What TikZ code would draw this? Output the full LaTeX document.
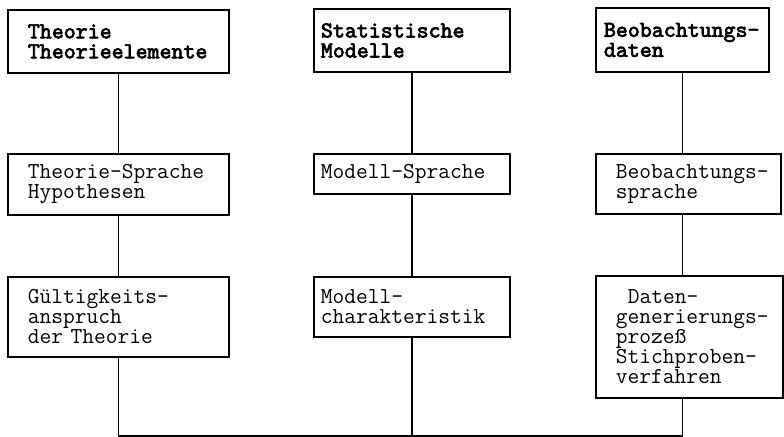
\documentclass[tikz,border=0pt]{standalone}
\hyphenpenalty=10000
\exhyphenpenalty=10000
\font\headfont="[lmmono10-regular.otf]:embolden=3" at 11.4pt

\begin{document}
\begin{tikzpicture}[x=0.5pt, y=-0.5pt,
  font=\fontsize{11.4}{10}\selectfont\ttfamily,
  box/.style={draw, line width=0.9pt, rectangle, align=left,
              anchor=north west, inner ysep=0pt},
  head/.style={box, font=\fontsize{11.4}{10}\selectfont\headfont},
  colL/.style={text width=90.5pt, inner xsep=10pt},
  colM/.style={text width=91pt, inner xsep=3.5pt},
  link/.style={line width=0.9pt}]

  \useasboundingbox (0,0) rectangle (784,437);

  % ── Theorie column ───────────────────────────────────────────────
  \node[head, colL, minimum height=31.5pt] (lt) at (7,9)   {Theorie\\Theorieelemente};
  \node[box,  colL, minimum height=30.5pt] (lm) at (7,153) {Theorie-Sprache\\Hypothesen};
  \node[box,  colL, minimum height=40pt]   (lb) at (7,276) {Gültigkeits-\\anspruch\\der Theorie};

  % ── Modell column ────────────────────────────────────────────────
  \node[head, colM, minimum height=31.5pt] (mt) at (313,8)   {Statistische\\Modelle};
  \node[box,  colM, minimum height=20pt]   (mm) at (313,153) {Modell-Sprache};
  \node[box,  colM, minimum height=30pt]   (mb) at (313,276) {Modell-\\charakteristik};

  % ── Beobachtung column (boxes get wider downwards) ───────────────
  \node[head, text width=78.5pt, inner xsep=4pt, minimum height=32pt] (rt) at (595,7)
    {Beobachtungs-\\daten};
  \node[box, text width=72.5pt, inner xsep=10pt, minimum height=30pt] (rm) at (595,153)
    {Beobachtungs-\\sprache};
  \node[box, text width=73.5pt, inner xsep=10pt, minimum height=61pt] (rb) at (595,275)
    {\hspace*{6pt}Daten-\\generierungs-\\prozeß\\Stichproben-\\verfahren};

  % ── Vertical links ───────────────────────────────────────────────
  \foreach \a/\b in {lt/lm, lm/lb, mt/mm, mm/mb}{
    \draw[link] (\a) -- (\b);
  }
  \draw[link] (rt.south) -- (rt.south |- rm.north);
  \draw[link] (rt.south |- rm.south) -- (rt.south |- rb.north);

  % ── Bottom bus ───────────────────────────────────────────────────
  \coordinate (bus) at (0,436);
  \draw[link] (lb.south) -- (lb.south |- bus) -- (rt.south |- bus) -- (rt.south |- rb.south);
  \draw[link] (mb.south) -- (mb.south |- bus);

\end{tikzpicture}
\end{document}
